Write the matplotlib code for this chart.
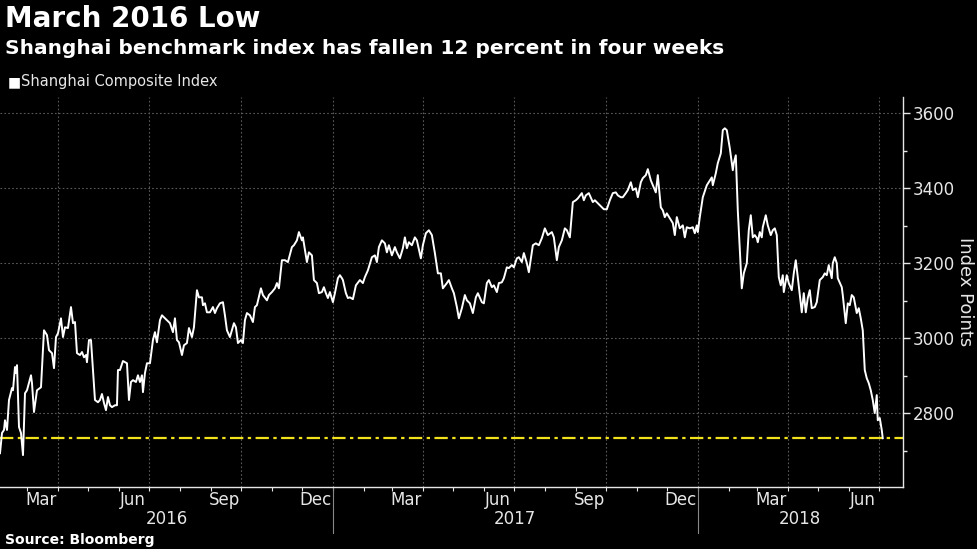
import matplotlib
matplotlib.use("Agg")
import matplotlib.pyplot as plt
import matplotlib.dates as mdates
import matplotlib.transforms as mtransforms
import pandas as pd
from matplotlib import font_manager

# Shanghai Composite Index
dates = [
    "2016-02-03", "2016-02-05", "2016-02-07", "2016-02-08", "2016-02-10", "2016-02-12",
    "2016-02-15", "2016-02-16", "2016-02-18", "2016-02-19", "2016-02-20", "2016-02-22",
    "2016-02-24", "2016-02-26", "2016-02-28", "2016-03-01", "2016-03-05", "2016-03-06",
    "2016-03-08", "2016-03-11", "2016-03-15", "2016-03-18", "2016-03-21", "2016-03-23",
    "2016-03-26", "2016-03-28", "2016-03-30", "2016-04-01", "2016-04-04", "2016-04-06",
    "2016-04-08", "2016-04-11", "2016-04-14", "2016-04-16", "2016-04-18", "2016-04-20",
    "2016-04-23", "2016-04-25", "2016-04-27", "2016-04-29", "2016-04-30", "2016-05-02",
    "2016-05-04", "2016-05-08", "2016-05-11", "2016-05-13", "2016-05-15", "2016-05-17",
    "2016-05-19", "2016-05-21", "2016-05-23", "2016-05-25", "2016-05-28", "2016-05-30",
    "2016-05-31", "2016-06-02", "2016-06-05", "2016-06-09", "2016-06-11", "2016-06-13",
    "2016-06-15", "2016-06-18", "2016-06-20", "2016-06-22", "2016-06-24", "2016-06-25",
    "2016-06-27", "2016-06-29", "2016-07-02", "2016-07-05", "2016-07-07", "2016-07-09",
    "2016-07-12", "2016-07-14", "2016-07-17", "2016-07-22", "2016-07-25", "2016-07-27",
    "2016-07-29", "2016-07-31", "2016-08-03", "2016-08-05", "2016-08-08", "2016-08-10",
    "2016-08-13", "2016-08-15", "2016-08-18", "2016-08-20", "2016-08-23", "2016-08-24",
    "2016-08-26", "2016-08-28", "2016-08-31", "2016-09-03", "2016-09-05", "2016-09-07",
    "2016-09-10", "2016-09-13", "2016-09-15", "2016-09-17", "2016-09-20", "2016-09-22",
    "2016-09-24", "2016-09-26", "2016-09-28", "2016-10-01", "2016-10-03", "2016-10-05",
    "2016-10-07", "2016-10-10", "2016-10-13", "2016-10-15", "2016-10-17", "2016-10-21",
    "2016-10-23", "2016-10-27", "2016-10-29", "2016-11-01", "2016-11-04", "2016-11-06",
    "2016-11-08", "2016-11-11", "2016-11-14", "2016-11-17", "2016-11-21", "2016-11-23",
    "2016-11-26", "2016-11-28", "2016-12-01", "2016-12-02", "2016-12-06", "2016-12-08",
    "2016-12-11", "2016-12-13", "2016-12-16", "2016-12-18", "2016-12-21", "2016-12-23",
    "2016-12-25", "2016-12-27", "2016-12-29", "2017-01-01", "2017-01-03", "2017-01-06",
    "2017-01-08", "2017-01-10", "2017-01-11", "2017-01-14", "2017-01-16", "2017-01-18",
    "2017-01-21", "2017-01-24", "2017-01-28", "2017-01-31", "2017-02-02", "2017-02-05",
    "2017-02-09", "2017-02-12", "2017-02-14", "2017-02-16", "2017-02-19", "2017-02-22",
    "2017-02-24", "2017-02-26", "2017-03-01", "2017-03-04", "2017-03-06", "2017-03-09",
    "2017-03-12", "2017-03-14", "2017-03-16", "2017-03-18", "2017-03-21", "2017-03-24",
    "2017-03-26", "2017-03-30", "2017-04-01", "2017-04-04", "2017-04-07", "2017-04-10",
    "2017-04-13", "2017-04-16", "2017-04-19", "2017-04-21", "2017-04-25", "2017-04-27",
    "2017-04-30", "2017-05-02", "2017-05-05", "2017-05-07", "2017-05-10", "2017-05-13",
    "2017-05-15", "2017-05-18", "2017-05-21", "2017-05-24", "2017-05-26", "2017-05-30",
    "2017-06-01", "2017-06-04", "2017-06-06", "2017-06-09", "2017-06-11", "2017-06-14",
    "2017-06-16", "2017-06-19", "2017-06-21", "2017-06-24", "2017-06-26", "2017-06-29",
    "2017-07-01", "2017-07-04", "2017-07-06", "2017-07-09", "2017-07-11", "2017-07-14",
    "2017-07-16", "2017-07-20", "2017-07-23", "2017-07-26", "2017-07-29", "2017-08-01",
    "2017-08-04", "2017-08-08", "2017-08-10", "2017-08-13", "2017-08-15", "2017-08-18",
    "2017-08-21", "2017-08-23", "2017-08-26", "2017-08-29", "2017-09-01", "2017-09-03",
    "2017-09-07", "2017-09-09", "2017-09-11", "2017-09-14", "2017-09-18", "2017-09-20",
    "2017-09-23", "2017-09-27", "2017-09-29", "2017-10-02", "2017-10-05", "2017-10-08",
    "2017-10-11", "2017-10-13", "2017-10-16", "2017-10-18", "2017-10-21", "2017-10-23",
    "2017-10-26", "2017-10-28", "2017-10-31", "2017-11-02", "2017-11-05", "2017-11-07",
    "2017-11-10", "2017-11-12", "2017-11-15", "2017-11-17", "2017-11-20", "2017-11-22",
    "2017-11-25", "2017-11-27", "2017-11-29", "2017-12-01", "2017-12-04", "2017-12-07",
    "2017-12-09", "2017-12-11", "2017-12-14", "2017-12-17", "2017-12-19", "2017-12-21",
    "2017-12-24", "2017-12-27", "2017-12-29", "2017-12-31", "2018-01-01", "2018-01-03",
    "2018-01-06", "2018-01-10", "2018-01-15", "2018-01-16", "2018-01-19", "2018-01-21",
    "2018-01-24", "2018-01-26", "2018-01-28", "2018-01-30", "2018-02-02", "2018-02-05",
    "2018-02-06", "2018-02-08", "2018-02-10", "2018-02-14", "2018-02-16", "2018-02-19",
    "2018-02-21", "2018-02-23", "2018-02-25", "2018-02-27", "2018-03-01", "2018-03-02",
    "2018-03-04", "2018-03-06", "2018-03-07", "2018-03-10", "2018-03-12", "2018-03-15",
    "2018-03-17", "2018-03-19", "2018-03-21", "2018-03-23", "2018-03-25", "2018-03-27",
    "2018-03-28", "2018-03-31", "2018-04-02", "2018-04-05", "2018-04-07", "2018-04-09",
    "2018-04-11", "2018-04-15", "2018-04-17", "2018-04-19", "2018-04-21", "2018-04-23",
    "2018-04-25", "2018-04-28", "2018-04-30", "2018-05-03", "2018-05-06", "2018-05-08",
    "2018-05-10", "2018-05-12", "2018-05-15", "2018-05-16", "2018-05-18", "2018-05-20",
    "2018-05-21", "2018-05-25", "2018-05-26", "2018-05-29", "2018-05-31", "2018-06-02",
    "2018-06-04", "2018-06-06", "2018-06-09", "2018-06-11", "2018-06-13", "2018-06-15",
    "2018-06-17", "2018-06-19", "2018-06-21", "2018-06-23", "2018-06-25", "2018-06-27",
    "2018-06-29", "2018-06-30", "2018-07-02", "2018-07-04", "2018-07-05",
]
values = [
    2693, 2747, 2755, 2781, 2755, 2835,
    2867, 2861, 2923, 2907, 2928, 2763,
    2747, 2688, 2853, 2861, 2901, 2880,
    2803, 2861, 2869, 3021, 3008, 2968,
    2960, 2920, 3003, 3013, 3053, 3003,
    3029, 3027, 3083, 3040, 3043, 2960,
    2955, 2963, 2949, 2955, 2936, 2995,
    2995, 2835, 2829, 2835, 2851, 2827,
    2808, 2843, 2821, 2816, 2821, 2821,
    2915, 2915, 2939, 2933, 2835, 2883,
    2888, 2883, 2901, 2883, 2901, 2856,
    2907, 2933, 2933, 2995, 3016, 2989,
    3048, 3061, 3053, 3040, 3016, 3053,
    2995, 2989, 2955, 2981, 2987, 3027,
    3003, 3029, 3128, 3109, 3109, 3088,
    3093, 3069, 3069, 3083, 3067, 3080,
    3093, 3096, 3061, 3021, 3003, 3021,
    3040, 3029, 2987, 2995, 2987, 3048,
    3067, 3061, 3043, 3083, 3088, 3133,
    3115, 3101, 3115, 3123, 3133, 3147,
    3133, 3208, 3208, 3203, 3243, 3248,
    3261, 3283, 3261, 3269, 3203, 3229,
    3221, 3155, 3147, 3120, 3123, 3136,
    3120, 3107, 3123, 3096, 3120, 3160,
    3168, 3160, 3155, 3120, 3107, 3109,
    3104, 3141, 3155, 3147, 3163, 3181,
    3216, 3221, 3203, 3243, 3261, 3253,
    3229, 3248, 3221, 3243, 3229, 3213,
    3240, 3269, 3240, 3256, 3248, 3269,
    3261, 3213, 3248, 3280, 3288, 3275,
    3227, 3173, 3173, 3133, 3147, 3155,
    3133, 3120, 3083, 3053, 3080, 3115,
    3101, 3093, 3067, 3109, 3120, 3096,
    3093, 3147, 3155, 3136, 3141, 3123,
    3147, 3149, 3160, 3189, 3187, 3195,
    3189, 3213, 3216, 3203, 3227, 3200,
    3176, 3248, 3253, 3248, 3267, 3293,
    3275, 3283, 3269, 3208, 3243, 3261,
    3293, 3288, 3269, 3363, 3368, 3373,
    3387, 3368, 3381, 3387, 3363, 3368,
    3360, 3349, 3344, 3344, 3368, 3387,
    3389, 3381, 3376, 3376, 3387, 3395,
    3416, 3395, 3400, 3376, 3416, 3427,
    3435, 3451, 3421, 3408, 3389, 3435,
    3349, 3341, 3323, 3333, 3320, 3307,
    3275, 3323, 3293, 3301, 3269, 3296,
    3293, 3296, 3280, 3301, 3283, 3323,
    3376, 3408, 3429, 3408, 3440, 3467,
    3493, 3555, 3560, 3555, 3507, 3448,
    3467, 3488, 3341, 3133, 3173, 3200,
    3288, 3328, 3269, 3275, 3267, 3256,
    3283, 3269, 3296, 3328, 3301, 3275,
    3288, 3293, 3275, 3163, 3141, 3168,
    3123, 3168, 3147, 3128, 3173, 3208,
    3163, 3069, 3120, 3069, 3107, 3128,
    3080, 3083, 3096, 3155, 3163, 3173,
    3168, 3195, 3160, 3200, 3216, 3200,
    3160, 3136, 3115, 3040, 3093, 3088,
    3115, 3109, 3067, 3080, 3053, 3021,
    2915, 2893, 2880, 2861, 2835, 2800,
    2848, 2781, 2787, 2755, 2733,
]
march_2016_low = 2733

title = "March 2016 Low"
subtitle = "Shanghai benchmark index has fallen 12 percent in four weeks"
series_name = "Shanghai Composite Index"
y_ticks = [2800, 3000, 3200, 3400, 3600]
years = [2016, 2017, 2018]

# pick a narrow face for the tick labels if one is there
installed = {f.name for f in font_manager.fontManager.ttflist}
narrow = "Liberation Sans Narrow" if "Liberation Sans Narrow" in installed else "DejaVu Sans"

dt = pd.to_datetime(dates)
xmin, xmax = pd.Timestamp("2016-02-03"), pd.Timestamp("2018-07-25")

fig = plt.figure(figsize=(9.77, 5.49), dpi=100, facecolor="black")
ax = fig.add_axes([0.0, 0.113, 0.924, 0.71], facecolor="black")

fg = "#e6e6e6"
grid_c = "#5a5a5a"

ax.plot(dt, values, color="white", lw=1.4, zorder=3)
ax.axhline(march_2016_low, color="#f2e21b", lw=1.6, ls=(0, (6, 2, 1.5, 2)), zorder=2)

ax.set_xlim(xmin, xmax)
ax.set_ylim(2603, 3643)

# spines
for s in ["top", "left"]:
    ax.spines[s].set_visible(False)
for s in ["right", "bottom"]:
    ax.spines[s].set_color(fg)
    ax.spines[s].set_linewidth(1)

# y axis on the right
ax.yaxis.tick_right()
ax.yaxis.set_label_position("right")
ax.set_yticks(y_ticks)
ax.set_yticks([2700, 2900, 3100, 3300, 3500], minor=True)
ax.tick_params(axis="y", which="major", colors=fg, length=5, width=1, labelsize=12, pad=2)
ax.tick_params(axis="y", which="minor", colors=fg, length=3, width=1)
for lab in ax.get_yticklabels():
    lab.set_fontfamily(narrow)
ax.set_ylabel("Index Points", color=fg, fontsize=13, rotation=270, labelpad=14, family=narrow)
ax.grid(axis="y", which="major", color=grid_c, ls=(0, (1.5, 2)), lw=0.8)

# x axis: ticks at each month start, labels mid-month
ax.xaxis.set_major_locator(mdates.MonthLocator())
ax.xaxis.set_major_formatter(plt.NullFormatter())
ax.xaxis.set_minor_locator(mdates.MonthLocator(bymonth=[3, 6, 9, 12], bymonthday=15))
ax.xaxis.set_minor_formatter(mdates.DateFormatter("%b"))
ax.tick_params(axis="x", which="major", colors=fg, length=3, width=0.8)
ax.tick_params(axis="x", which="minor", colors=fg, length=0, labelsize=12, pad=3)
for lab in ax.get_xticklabels(minor=True):
    lab.set_fontfamily(narrow)

# quarterly vertical gridlines
for q in pd.date_range("2016-04-01", "2018-07-01", freq="QS-JAN"):
    ax.axvline(q, color=grid_c, ls=(0, (1.5, 2)), lw=0.8, zorder=1)

# year labels and separators under the axis
trans = mtransforms.blended_transform_factory(ax.transData, ax.transAxes)
for i, yr in enumerate(years):
    start = max(pd.Timestamp(f"{yr}-01-01"), xmin)
    end = min(pd.Timestamp(f"{yr + 1}-01-01"), xmax)
    mid = start + (end - start) / 2
    ax.text(mid, -0.083, str(yr), transform=trans, ha="center", va="center",
            color=fg, fontsize=12, family=narrow)
    if i > 0:
        ax.plot([pd.Timestamp(f"{yr}-01-01")] * 2, [0, -0.118], transform=trans,
                color="#888888", lw=0.8, clip_on=False)

# titles, legend, source
fig.text(0.005, 0.965, title, color="white", fontsize=20, fontweight="bold",
         ha="left", va="center", family="DejaVu Sans")
fig.text(0.005, 0.912, subtitle, color="white", fontsize=14.5, fontweight="bold",
         ha="left", va="center", family="DejaVu Sans")
fig.text(0.008, 0.851, "\u25a0", color="white", fontsize=10, ha="left", va="center")
fig.text(0.021, 0.851, series_name, color=fg, fontsize=10.5, ha="left", va="center",
         family="DejaVu Sans")
fig.text(0.005, 0.017, "Source: Bloomberg", color="white", fontsize=10, fontweight="bold",
         ha="left", va="center", family="DejaVu Sans")

fig.savefig("out.png", dpi=100, facecolor="black")
